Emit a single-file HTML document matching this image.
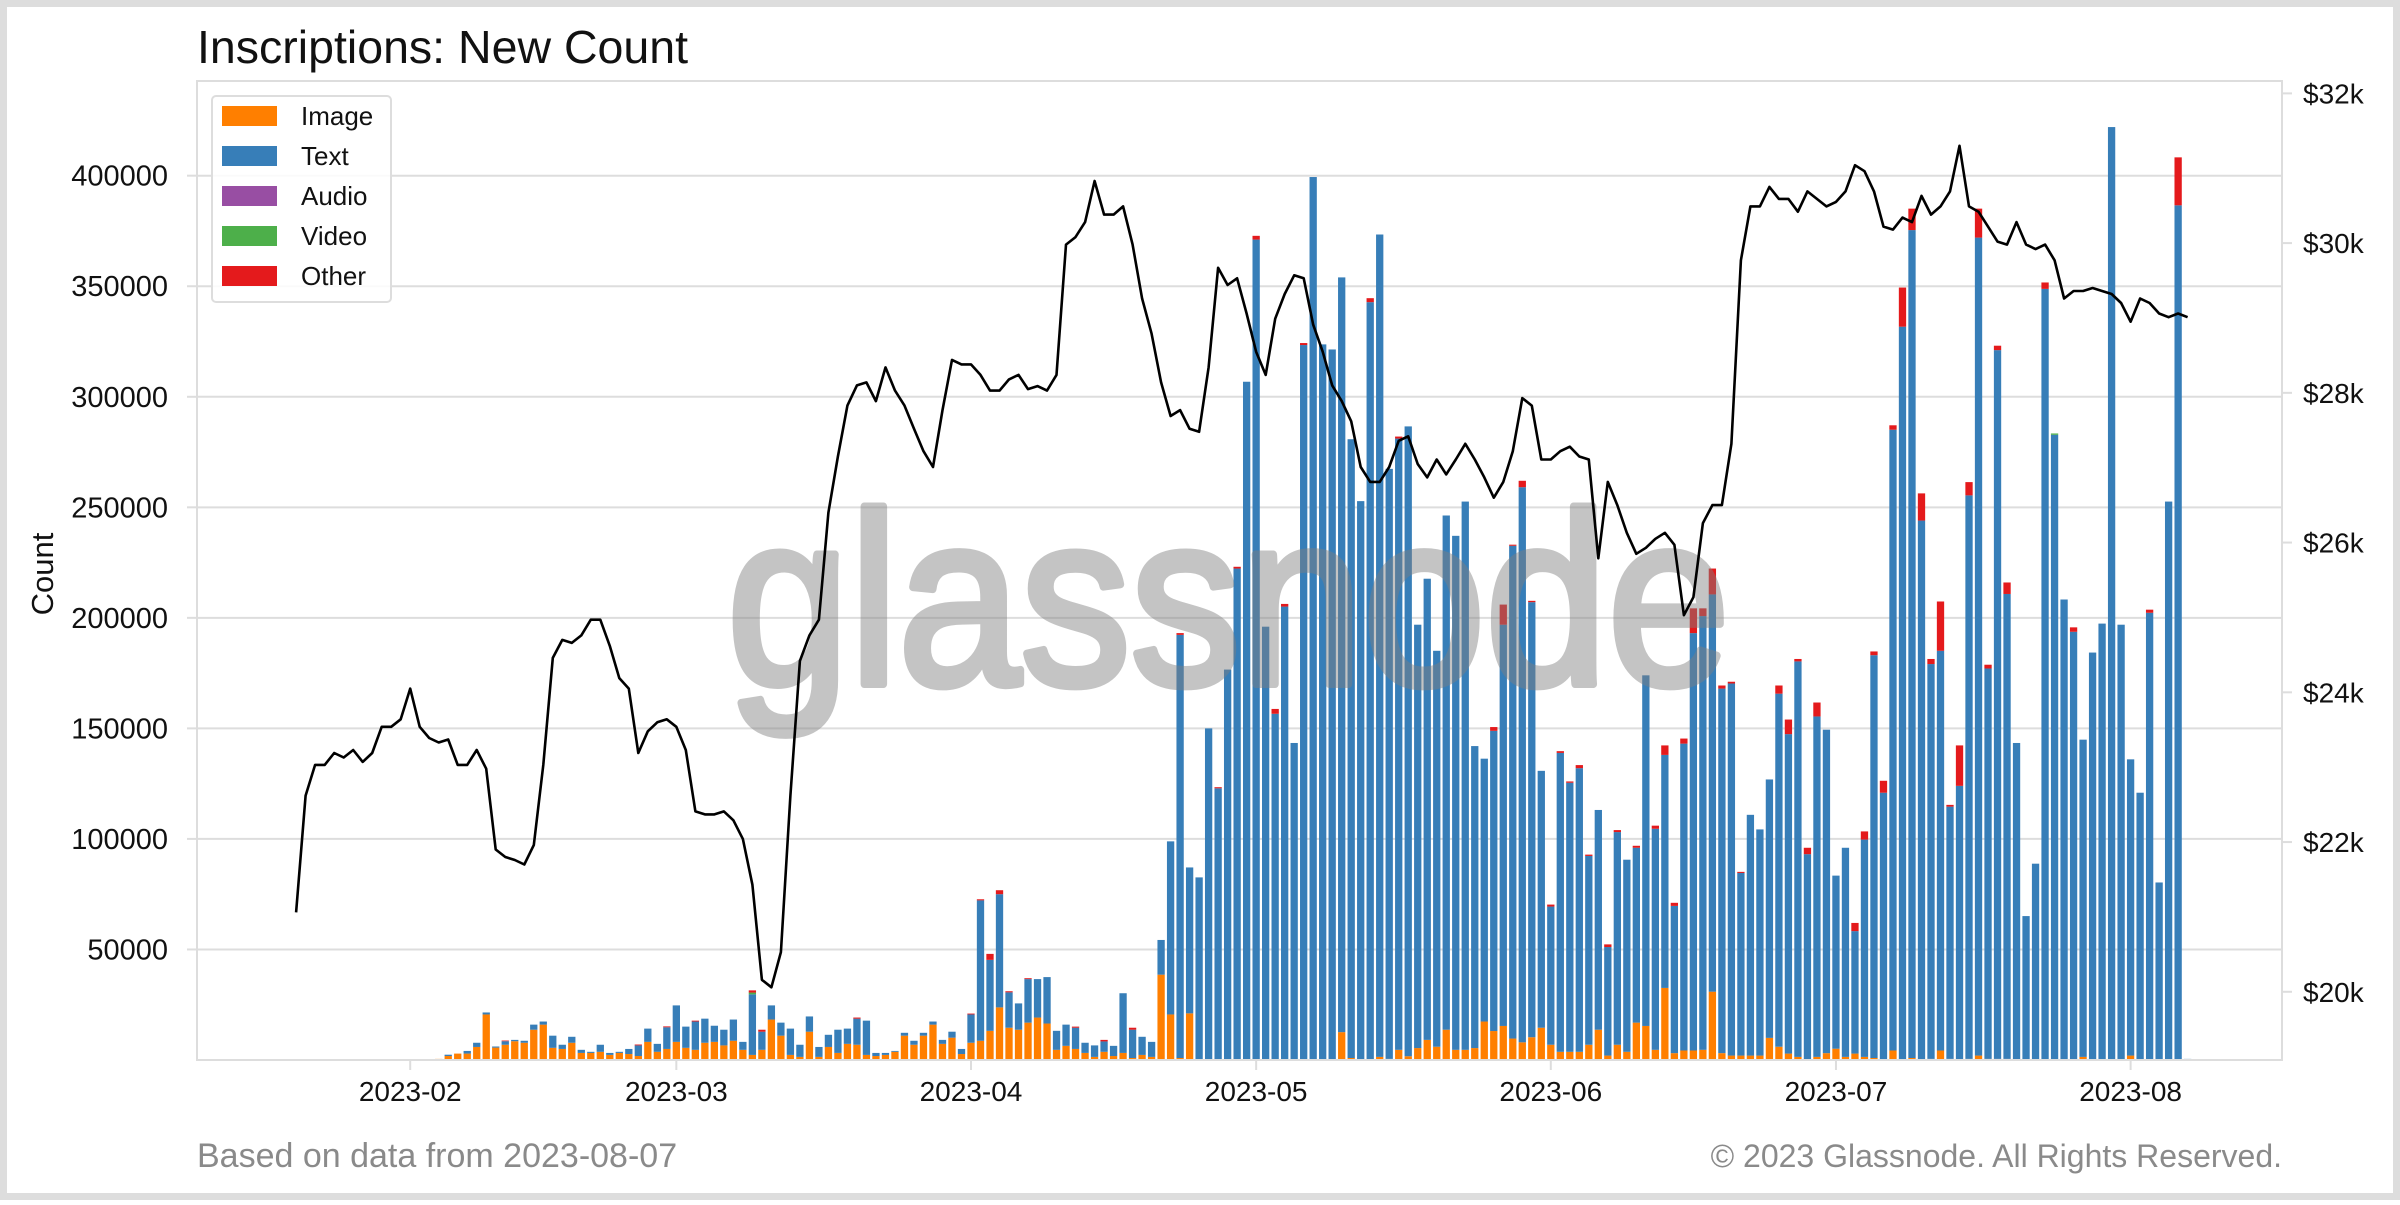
<!DOCTYPE html>
<html><head><meta charset="utf-8"><title>Inscriptions: New Count</title>
<style>
html,body{margin:0;padding:0;background:#fff;}
body{width:2400px;height:1200px;overflow:hidden;font-family:"Liberation Sans",sans-serif;}
svg text{font-family:"Liberation Sans",sans-serif;}
</style></head>
<body>
<svg id="chart" width="2400" height="1200" viewBox="0 0 2400 1200" xmlns="http://www.w3.org/2000/svg">
<rect x="3.5" y="3.5" width="2393" height="1193" fill="#fff" stroke="#dddddd" stroke-width="7"/>
<text x="197" y="63" font-size="46.5" fill="#111">Inscriptions: New Count</text>
<text x="0" y="0" font-size="31" fill="#111" text-anchor="middle" transform="translate(53,574) rotate(-90)">Count</text>
<text x="197" y="1167" font-size="34" fill="#8a8a8a">Based on data from 2023-08-07</text>
<text x="2282" y="1167" font-size="32" fill="#8a8a8a" text-anchor="end">© 2023 Glassnode. All Rights Reserved.</text>
<g id="grid"></g>
<g id="bars"></g>
<g opacity="0.46">
<text x="727" y="684" font-size="245" fill="#808080" stroke="#808080" stroke-width="8" stroke-linejoin="round" textLength="1003" lengthAdjust="spacingAndGlyphs">glassnode</text>
</g>
<g id="line"></g>
<g id="axes"></g>
<g id="legend"></g>
</svg>
<script>
// ---- data (counts in thousands) ----
const barStart = '2023-02-04';
const imageK = [0.5,1.8,2.9,2.9,5.9,20.6,5.6,6.9,8.5,7.8,13.7,16.0,5.5,5.0,7.8,3.2,3.2,3.7,2.3,3.2,2.7,1.8,8.2,3.7,5.0,8.2,5.5,4.6,7.8,8.2,6.6,8.7,4.6,2.3,4.6,18.3,11.0,2.3,1.4,12.8,1.4,5.9,3.2,7.3,6.9,2.3,1.8,2.3,3.7,11.0,6.9,11.0,16.0,7.3,10.1,2.7,7.8,8.7,13.2,23.8,14.6,13.7,16.9,19.2,16.5,4.6,6.4,5.0,3.2,1.4,3.7,1.8,3.2,0.9,2.3,1.4,38.6,
20.6,0.9,21.1,0,0,0,0,0,0,0,0,0,0,0,0,0,0,0,12.6,0.9,0,0,1.4,0.5,4.6,1.7,5.4,9.1,6.0,13.7,4.6,4.6,5.4,17.4,13.1,15.4,9.7,8.0,10.3,14.6,6.9,3.7,3.7,3.7,6.9,13.7,2.0,6.9,3.7,16.9,15.4,4.6,32.6,3.1,4.3,4.3,4.6,30.9,3.1,2.0,2.0,2.0,2.0,10.0,6.0,2.9,1.4,0,1.4,3.1,5.1,1.4,2.9,1.4,0.9,0,4.3,0,0.9,0,0.5,4.3,0.5,0,0.5,2.0,0.5,0.5,0.5,0,0.3,0.3,0,0,0.3,0.3,1.4,0,0,0,0,2.0,0,0,0,0,0,0.3];
const textK = [0,0.6,0,1.2,1.9,0.9,0.5,1.6,0.6,0.9,2.3,1.4,5.5,1.9,2.7,1.4,0.5,3.2,0.9,0.5,2.3,4.8,6.0,3.6,9.8,16.5,9.6,12.8,10.9,7.3,7.1,9.6,3.6,27.4,8.2,6.4,5.9,11.9,5.5,6.9,4.5,5.5,10.5,6.9,11.8,15.5,1.4,0.9,0.4,1.3,1.8,1.3,1.4,1.8,2.7,2.3,12.8,63.5,32.1,51.2,16.0,11.9,19.7,17.4,21.0,8.6,9.6,9.6,4.6,5.2,4.7,4.6,27.0,12.8,8.2,6.8,15.7,
78.3,191.4,66.0,82.6,150.0,122.9,176.6,222.3,306.8,371.1,196.0,156.6,205.1,143.4,323.4,399.4,323.7,321.4,341.4,279.9,252.8,342.8,372.0,266.9,276.5,284.9,191.5,208.6,179.1,232.6,232.5,248.0,136.6,118.9,135.8,181.5,222.9,251.1,196.8,116.2,62.5,135.2,121.7,128.3,85.4,99.4,49.1,96.2,86.9,79.1,158.6,100.0,105.4,66.6,138.8,188.8,196.2,179.7,164.9,168.3,82.6,108.9,102.3,116.9,159.7,144.5,178.9,93.1,154.0,146.3,78.3,94.6,55.4,98.3,182.2,120.9,280.8,331.7,374.5,244.0,178.6,180.8,114.1,124.0,254.9,370.0,176.6,320.6,210.3,143.4,64.8,88.5,348.8,282.8,208.0,193.4,143.5,184.3,197.4,422.0,196.9,134.0,120.9,202.3,80.3,252.6,386.6,0.2];
const audioK = new Array(185).fill(0);
const videoK = new Array(185).fill(0);
videoK[33] = 0.8;
videoK[170] = 0.6;
const otherK = [0,0,0,0,0,0,0,0.3,0,0,0,0,0,0,0,0,0,0,0,0,0,0.4,0,0,0.4,0,0,0.4,0,0,0,0,0,1.0,0.9,0,0,0,0,0,0,0,0,0,0.5,0,0,0,0,0,0,0,0,0,0,0,0.4,0.5,2.7,1.8,0.5,0,0.4,0,0,0,0,0.5,0,0,0.7,0,0,0.9,0,0,0,
0,0.8,0,0,0,0.5,0,0.8,0,1.7,0,2.2,1.2,0,0.9,0,0,0,0,0,0,1.8,0,0,0.9,0,0,0,0,0,0,0,0,0,1.7,9.1,0.5,2.9,0.6,0,0.9,0.8,0.6,1.4,0.6,0,1.2,0.9,0,0.9,0,1.4,4.3,1.4,2.3,11.2,3.5,11.7,1.4,0.8,0.5,0,0,0,3.7,6.6,1.1,2.9,6.3,0,0,0,3.7,3.7,1.7,5.4,2.0,17.7,9.7,12.3,2.3,22.3,0.8,18.3,6.0,13.1,1.7,2.0,5.2,0,0,0,2.9,0,0,2.0,0,0,0,0,0,0,0,1.4,0,0,21.7,0];
const priceStart = '2023-01-20';
const priceK = [21.06,22.62,23.03,23.03,23.19,23.13,23.23,23.07,23.19,23.54,23.54,23.64,24.05,23.54,23.39,23.33,23.37,23.03,23.03,23.23,22.98,21.90,21.80,21.76,21.70,21.96,23.03,24.46,24.70,24.66,24.76,24.97,24.97,24.62,24.19,24.05,23.19,23.48,23.60,23.64,23.54,23.23,22.41,22.37,22.37,22.41,22.29,22.04,21.43,20.16,20.06,20.53,22.62,24.42,24.76,24.97,26.40,27.15,27.83,28.10,28.14,27.89,28.34,28.03,27.83,27.52,27.22,27.01,27.77,28.44,28.38,28.38,28.24,28.03,28.03,28.18,28.24,28.05,28.09,28.03,28.24,29.98,30.08,30.28,30.83,30.38,30.38,30.49,29.98,29.26,28.79,28.14,27.69,27.77,27.52,27.48,28.34,29.67,29.44,29.53,29.06,28.55,28.24,28.99,29.32,29.57,29.53,28.91,28.55,28.10,27.89,27.62,27.01,26.81,26.81,27.01,27.36,27.42,27.05,26.87,27.11,26.91,27.11,27.32,27.11,26.87,26.60,26.81,27.22,27.93,27.83,27.11,27.11,27.22,27.28,27.15,27.11,25.79,26.81,26.50,26.13,25.85,25.93,26.05,26.13,25.97,25.03,25.27,26.26,26.50,26.50,27.32,29.77,30.49,30.49,30.75,30.59,30.59,30.42,30.69,30.59,30.49,30.55,30.69,31.04,30.96,30.69,30.22,30.18,30.34,30.28,30.63,30.38,30.49,30.69,31.30,30.49,30.42,30.22,30.02,29.98,30.28,29.98,29.92,29.98,29.77,29.26,29.36,29.36,29.40,29.36,29.32,29.20,28.95,29.26,29.20,29.06,29.01,29.06,29.01];
const yTicks = [50000,100000,150000,200000,250000,300000,350000,400000];
const priceTicks = [20,22,24,26,28,30,32];
const priceTickLabels = ['$20k','$22k','$24k','$26k','$28k','$30k','$32k'];
const xTickDates = ['2023-02-01','2023-03-01','2023-04-01','2023-05-01','2023-06-01','2023-07-01','2023-08-01'];
const seriesNames = ['Image','Text','Audio','Video','Other'];

// ---- scales ----
const NS = 'http://www.w3.org/2000/svg';
const L = 197, R = 2282, T = 81, B = 1060;
const DAY = 86400000;
const t0 = Date.parse('2023-02-01T00:00:00Z');
const pxPerDay = 9.505;
const x0 = 410.2;
function xScale(dateMs){ return x0 + (dateMs - t0) / DAY * pxPerDay; }
function yScale(c){ return B - c * (884.3 / 400000); }
function pScale(k){ return 991.8 - (k - 20) * 74.87; }
function mk(tag, attrs, parent){ const e = document.createElementNS(NS, tag); for (const k in attrs) e.setAttribute(k, attrs[k]); parent.appendChild(e); return e; }

const grid = document.getElementById('grid');
const axes = document.getElementById('axes');
yTicks.forEach(v => {
  const y = yScale(v);
  const g = mk('line', {x1:L, x2:R, y1:y, y2:y, stroke:'#dddddd', 'stroke-width':2}, grid);
  
  
  const tk = mk('line', {x1:L-10, x2:L, y1:y, y2:y, stroke:'#dddddd', 'stroke-width':2}, axes);
  
  
  const tx = mk('text', {x:168, y:y+10, 'font-size':29, fill:'#111', 'text-anchor':'end'}, axes);
  tx.textContent = String(v);
  
  
});
priceTicks.forEach((v, i) => {
  const y = pScale(v);
  const tk = mk('line', {x1:R, x2:R+10, y1:y, y2:y, stroke:'#dddddd', 'stroke-width':2}, axes);
  
  
  const tx = mk('text', {x:2303, y:y+10, 'font-size':28, fill:'#111'}, axes);
  tx.textContent = priceTickLabels[i];
  
  
});
xTickDates.forEach(d => {
  const x = xScale(Date.parse(d + 'T00:00:00Z'));
  const tk = mk('line', {x1:x, x2:x, y1:B, y2:B+10, stroke:'#dddddd', 'stroke-width':2}, axes);
  
  
  const tx = mk('text', {x:x, y:1101, 'font-size':28, fill:'#111', 'text-anchor':'middle'}, axes);
  tx.textContent = d.slice(0, 7);
  
  
});
const frame = mk('rect', {x:L, y:T, width:R-L, height:B-T, fill:'none', stroke:'#dddddd', 'stroke-width':2}, axes);



const colors = ['#ff7f00','#377eb8','#984ea3','#4daf4a','#e41a1c'];
const series = [imageK, textK, audioK, videoK, otherK];
const barsG = document.getElementById('bars');
const bs = Date.parse(barStart + 'T00:00:00Z');
const bw = 7.3;
for (let i = 0; i < textK.length; i++) {
  const x = xScale(bs + i * DAY);
  let acc = 0;
  for (let s = 0; s < series.length; s++) {
    const v = series[s][i] * 1000;
    if (v <= 0) continue;
    const yTop = yScale(acc + v), yBot = yScale(acc);
    const r = mk('rect', {x:x - bw/2, y:yTop, width:bw, height:Math.max(yBot - yTop, 0.5), fill:colors[s]}, barsG);
    
    
    acc += v;
  }
}

const ps = Date.parse(priceStart + 'T00:00:00Z');
let d = '';
priceK.forEach((v, i) => {
  d += (i ? 'L' : 'M') + xScale(ps + i * DAY).toFixed(1) + ',' + pScale(v).toFixed(1);
});
const path = mk('path', {d:d, fill:'none', stroke:'#000', 'stroke-width':2.6, 'stroke-linejoin':'round'}, document.getElementById('line'));



const lg = document.getElementById('legend');
const box = mk('rect', {x:212, y:96, width:179, height:206, rx:4, fill:'rgba(255,255,255,0.85)', stroke:'#dddddd', 'stroke-width':2}, lg);


seriesNames.forEach((n, i) => {
  const cy = 116 + i * 40;
  const p = mk('rect', {x:222, y:cy - 10, width:55, height:20, fill:colors[i]}, lg);
  
  
  const t = mk('text', {x:301, y:cy + 9, 'font-size':26, fill:'#111'}, lg);
  t.textContent = n;
  
  
});
</script>
</body></html>
